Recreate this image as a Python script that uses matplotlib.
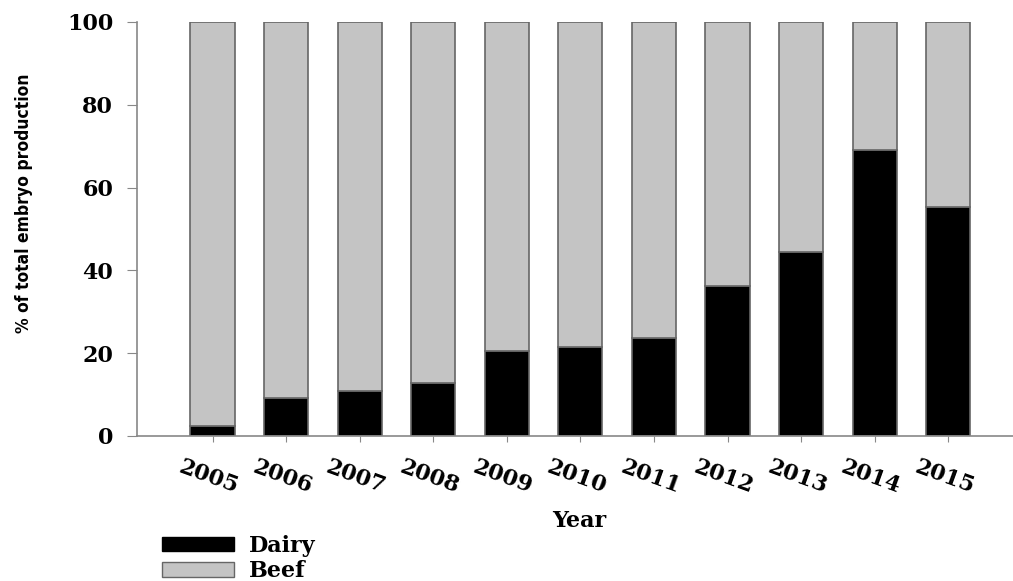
import numpy as np
import matplotlib.pyplot as plt
from matplotlib.patches import Patch

# Data
years = ['2005', '2006', '2007', '2008', '2009', '2010',
         '2011', '2012', '2013', '2014', '2015']
dairy = [2.4, 9.2, 10.9, 12.8, 20.5, 21.6, 23.7, 36.2, 44.4, 69.0, 55.4]
beef = [100 - d for d in dairy]

serif = ['DejaVu Serif']
fig = plt.figure(figsize=(10.13, 5.81), dpi=100)
ax = fig.add_axes([0.135, 0.2496, 0.865, 0.7126])

x = np.arange(len(years))
ax.bar(x, dairy, width=0.6, color='black', edgecolor='#666666', linewidth=1.2)
ax.bar(x, beef, width=0.6, bottom=dairy, color='#c4c4c4',
       edgecolor='#666666', linewidth=1.2)

ax.set_xlim(-1.03, 10.88)
ax.set_ylim(0, 100)
ax.set_yticks([0, 20, 40, 60, 80, 100])
ax.set_xticks(x)
ax.set_xticklabels(years, rotation=-20, ha='center', rotation_mode='anchor',
                   fontsize=16, fontweight='bold', family=serif)
for lab in ax.get_yticklabels():
    lab.set_fontsize(16)
    lab.set_fontweight('bold')
    lab.set_family(serif)

for s in ['top', 'right']:
    ax.spines[s].set_visible(False)
for s in ['left', 'bottom']:
    ax.spines[s].set_color('#888888')
    ax.spines[s].set_linewidth(1.2)
ax.tick_params(axis='y', length=7, color='#888888', pad=10)
ax.tick_params(axis='x', length=4, color='#888888', pad=18)

ax.set_ylabel('% of total embryo production', fontsize=12.5, fontweight='bold',
              fontstretch='condensed', family=['DejaVu Sans'])
ax.yaxis.set_label_coords(-0.118, 0.563)
fig.text(0.572, 0.103, 'Year', ha='center', va='center', fontsize=16,
         fontweight='bold', family=serif)

handles = [Patch(facecolor='black', edgecolor='black', label='Dairy'),
           Patch(facecolor='#c4c4c4', edgecolor='#666666', label='Beef')]
fig.legend(handles=handles, loc='upper left', bbox_to_anchor=(0.145, 0.106),
           frameon=False, handlelength=3.2, handleheight=0.6,
           labelspacing=0.15, borderpad=0.2, handletextpad=0.7,
           prop={'family': serif, 'weight': 'bold', 'size': 16})

fig.savefig('out.png', dpi=100)
